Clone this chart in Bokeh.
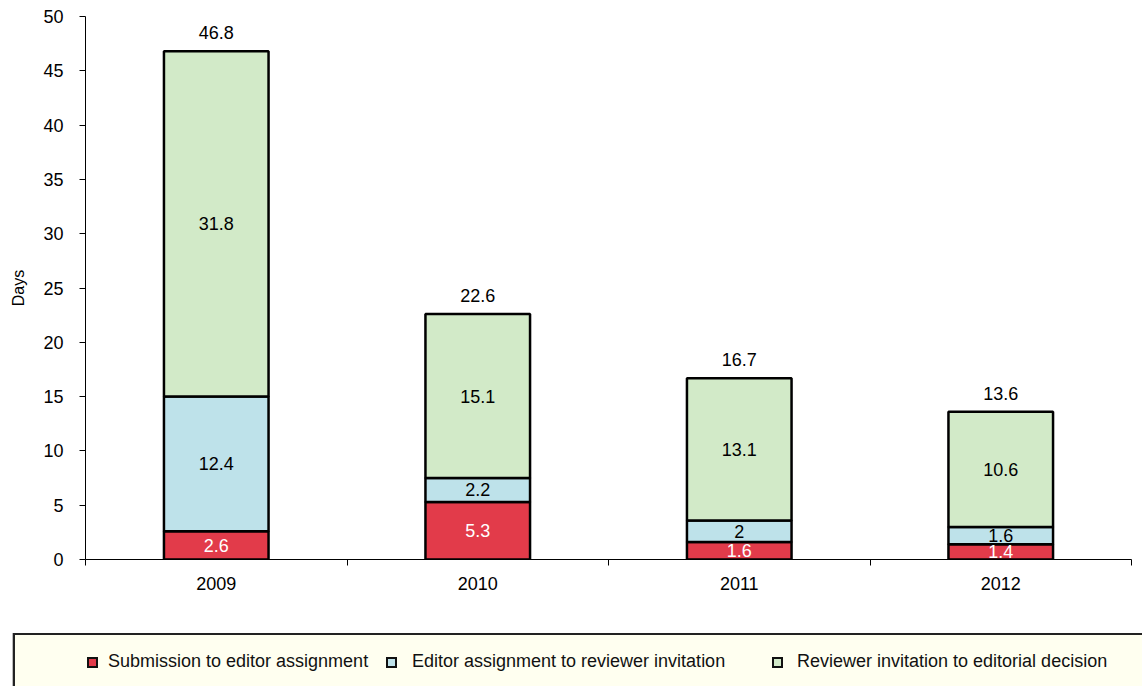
from bokeh.plotting import figure
from bokeh.models import Range1d, FixedTicker, ColumnDataSource, Div
from bokeh.layouts import column
from bokeh.embed import file_html
from bokeh.resources import INLINE
from bokeh.core.properties import value
import numpy as np

years = ["2009", "2010", "2011", "2012"]
submission_to_editor = [2.6, 5.3, 1.6, 1.4]
editor_to_reviewer = [12.4, 2.2, 2.0, 1.6]
reviewer_to_decision = [31.8, 15.1, 13.1, 10.6]
totals = [46.8, 22.6, 16.7, 13.6]
series_names = ["Submission to editor assignment",
                "Editor assignment to reviewer invitation",
                "Reviewer invitation to editorial decision"]
y_ticks = [0, 5, 10, 15, 20, 25, 30, 35, 40, 45, 50]

colors = ["#E23B4A", "#BEE2EA", "#D2EAC8"]
FONT = "Liberation Sans"
FS = "18px"

xpos = [i + 0.5 for i in range(len(years))]
bounds = list(range(len(years) + 1))

p = figure(x_range=Range1d(0, len(years)), y_range=Range1d(0, 50), width=1142, height=633,
           output_backend="svg", toolbar_location=None,
           min_border_left=85, min_border_right=11, min_border_top=16, min_border_bottom=74)
p.outline_line_color = None
p.xgrid.visible = False
p.ygrid.visible = False
p.background_fill_color = "white"

src = ColumnDataSource(dict(x=xpos, s1=submission_to_editor, s2=editor_to_reviewer,
                            s3=reviewer_to_decision, tot=totals))
p.vbar_stack(["s1", "s2", "s3"], x="x", width=0.4, source=src, fill_color=colors,
             line_color="black", line_width=2.5)

# labels
s1 = np.array(submission_to_editor)
s2 = np.array(editor_to_reviewer)
s3 = np.array(reviewer_to_decision)
fmt = lambda v: ("%g" % v)
lab = ColumnDataSource(dict(
    x=xpos * 3,
    y=list(s1 / 2) + list(s1 + s2 / 2) + list(s1 + s2 + s3 / 2),
    t=[fmt(v) for v in submission_to_editor + editor_to_reviewer + reviewer_to_decision],
    c=["white"] * 4 + ["black"] * 8,
))
p.text(x="x", y="y", text="t", source=lab, text_color="c", text_align="center",
       text_baseline="middle", text_font=value(FONT), text_font_size=FS)
tsrc = ColumnDataSource(dict(x=xpos, y=totals, t=[fmt(v) for v in totals]))
p.text(x="x", y="y", text="t", source=tsrc, text_align="center", text_baseline="bottom",
       y_offset=-12, text_font=value(FONT), text_font_size=FS, text_color="black")

# y axis
yax = p.yaxis[0]
yax.ticker = FixedTicker(ticks=y_ticks)
yax.axis_label = "Days"
yax.axis_label_text_font = FONT
yax.axis_label_text_font_size = "16px"
yax.axis_label_text_font_style = "normal"
yax.axis_label_text_color = "black"
yax.axis_label_standoff = 13
yax.major_label_text_font = FONT
yax.major_label_text_font_size = FS
yax.major_label_text_color = "black"
yax.major_label_standoff = 16
yax.major_tick_out = 6
yax.major_tick_in = 0
yax.minor_tick_line_color = None
yax.axis_line_color = "black"
yax.major_tick_line_color = "black"

# x axis: labels at category centres, tick marks at category boundaries
xax = p.xaxis[0]
xax.ticker = FixedTicker(ticks=xpos, minor_ticks=bounds)
xax.major_label_overrides = {x: y for x, y in zip(xpos, years)}
xax.major_tick_line_color = None
xax.major_tick_out = 0
xax.major_tick_in = 0
xax.minor_tick_out = 6
xax.minor_tick_in = 0
xax.minor_tick_line_color = "black"
xax.axis_line_color = "black"
xax.major_label_standoff = 11
xax.major_label_text_font = FONT
xax.major_label_text_font_size = FS
xax.major_label_text_color = "black"

# legend box
sq_left = [87, 386, 772]
tx_left = [108, 412, 797]
items = ""
for name, col, sl, tl in zip(series_names, colors, sq_left, tx_left):
    items += (f'<div style="position:absolute;left:{sl}px;top:24px;width:11px;height:11px;'
              f'box-sizing:border-box;border:2px solid #111;background:{col};"></div>'
              f'<div style="position:absolute;left:{tl}px;top:17px;line-height:22px;'
              f'font-family:\'{FONT}\';font-size:{FS};color:#111;white-space:nowrap;">{name}</div>')
html = ('<div style="position:relative;width:1142px;height:53px;overflow:hidden;">'
        '<div style="position:absolute;left:13px;top:0px;width:1140px;height:60px;'
        'box-sizing:border-box;border-top:2px solid #222;border-left:2px solid #222;'
        'background:#FFFFF0;box-shadow:-1px 0 0 #bbb;"></div>'
        + items + '</div>')
legend_div = Div(text=html, width=1142, height=53, margin=0, styles={"overflow": "hidden"})

layout = column(p, legend_div, spacing=0)
open("out.html", "w").write(file_html(layout, INLINE))
